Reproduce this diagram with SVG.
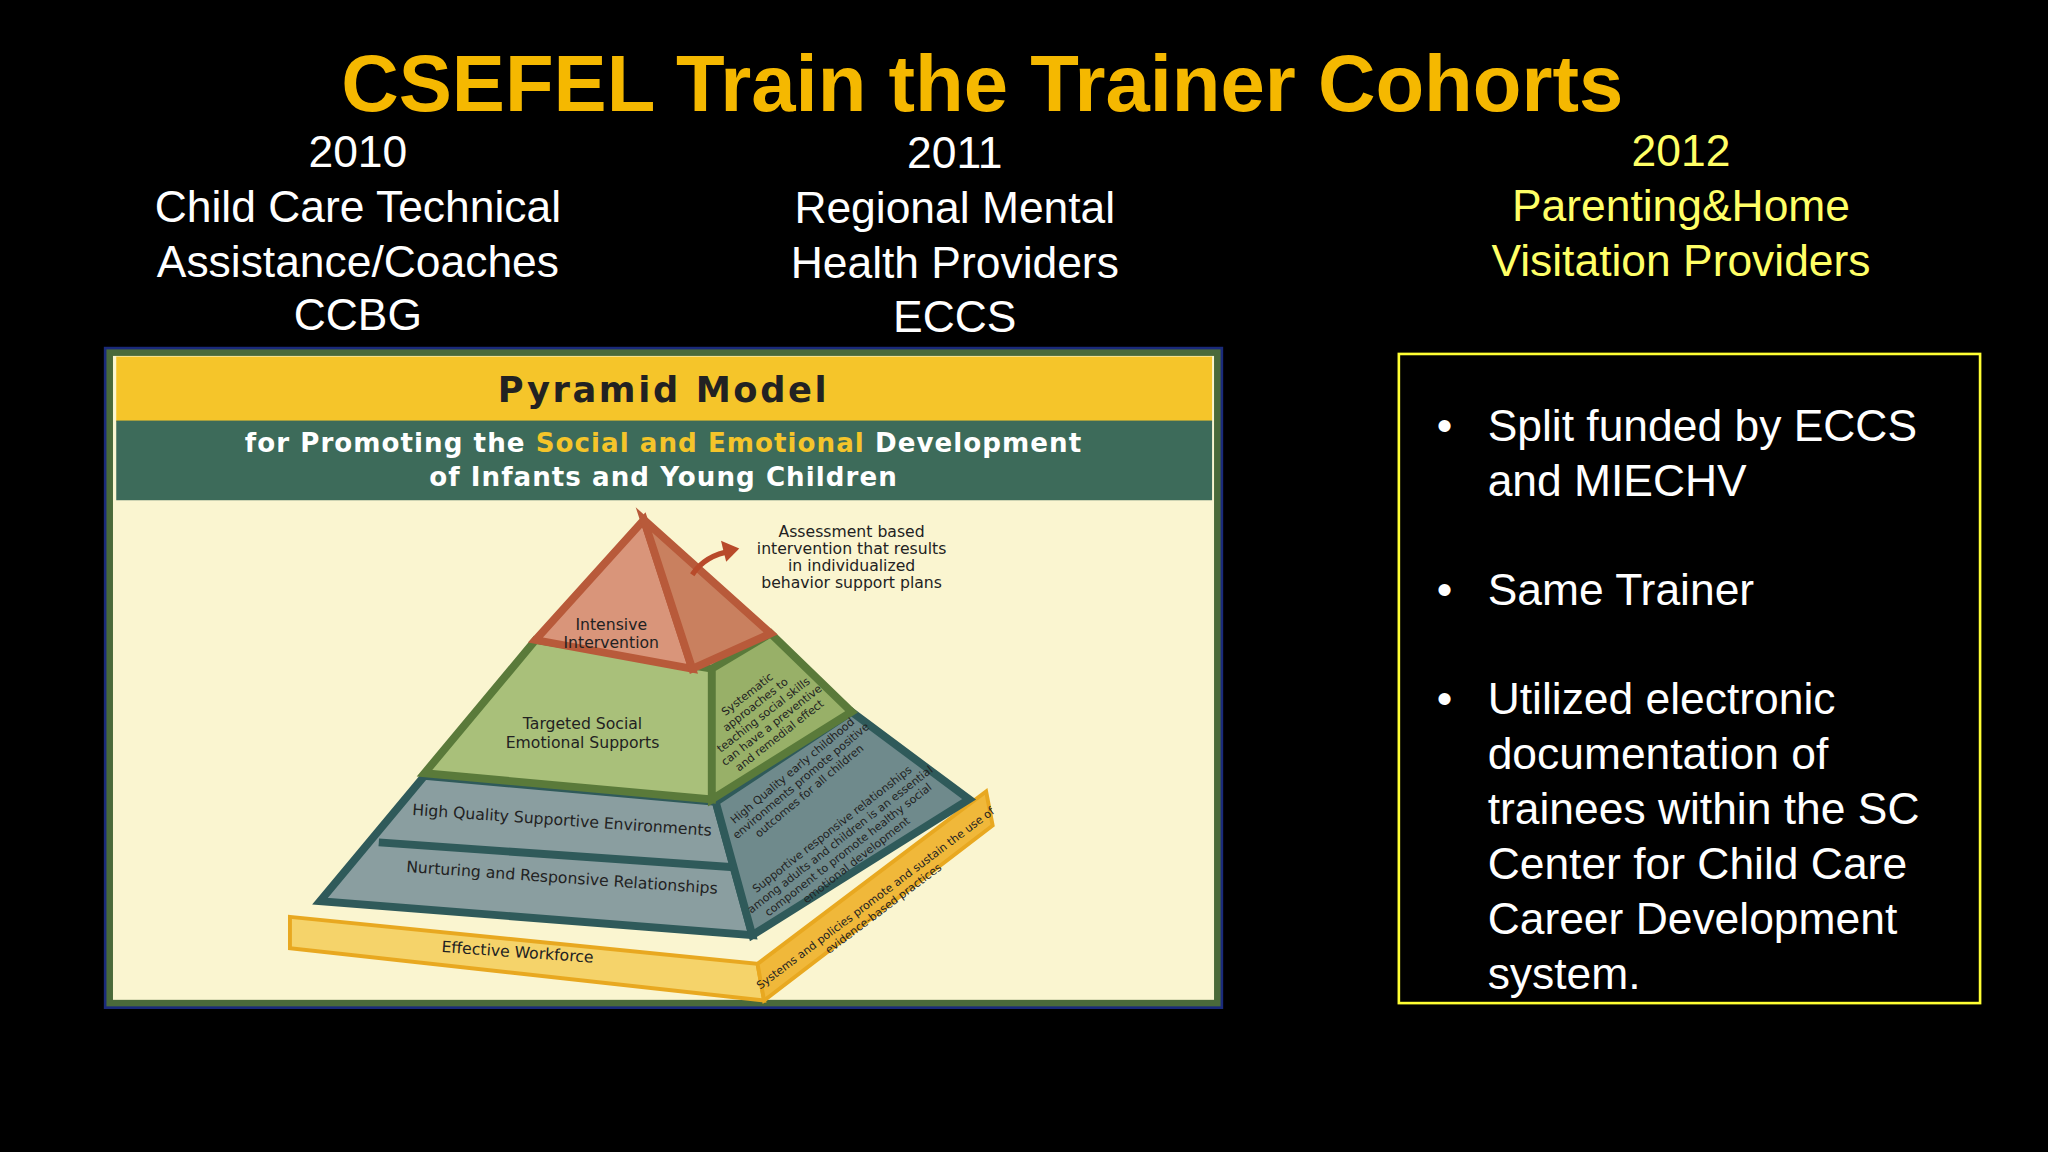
<svg xmlns="http://www.w3.org/2000/svg" width="2048" height="1152" viewBox="0 0 2048 1152">
<style>
.h{font-family:"Liberation Sans",Arial,sans-serif;font-size:34px;text-anchor:middle;fill:#fff}
.y{fill:#ffff66}
.b{font-family:"Liberation Sans",Arial,sans-serif;font-size:34px;fill:#fff}
.p{font-family:"Comic Sans MS","DejaVu Sans",sans-serif;fill:#222}
.pt{font-family:"DejaVu Sans",sans-serif;font-weight:bold;text-anchor:middle}
</style>
<rect width="2048" height="1152" fill="#000"/>
<g transform="scale(1.30612)">
<text x="752" y="85" font-family="Liberation Sans,Arial,sans-serif" font-weight="bold" font-size="61" fill="#f5b800" text-anchor="middle">CSEFEL Train the Trainer Cohorts</text>
<g id="col2010"><text class="h" x="274" y="128">2010</text><text class="h" x="274" y="170">Child Care Technical</text><text class="h" x="274" y="212">Assistance/Coaches</text><text class="h" x="274" y="253">CCBG</text></g>
<g id="col2011"><text class="h" x="731" y="129">2011</text><text class="h" x="731" y="171">Regional Mental</text><text class="h" x="731" y="213">Health Providers</text><text class="h" x="731" y="254">ECCS</text></g>
<g id="col2012"><text class="h y" x="1287" y="127">2012</text><text class="h y" x="1287" y="169">Parenting&amp;Home</text><text class="h y" x="1287" y="211">Visitation Providers</text></g>
<g id="pyramid-image">
<rect x="81" y="267" width="854" height="504" fill="#faf5d0" stroke="#1a2a7a" stroke-width="3"/>
<rect x="84" y="270" width="848" height="498" fill="none" stroke="#4a6a3a" stroke-width="5"/>
<rect x="89" y="273" width="839" height="50" fill="#f5c52a"/>
<rect x="89" y="322" width="839" height="61" fill="#3d6b5a"/>
<text class="pt" x="508" y="308" font-size="27" letter-spacing="2" fill="#222">Pyramid Model</text>
<text class="pt" x="508" y="346" font-size="20" letter-spacing="0.8" fill="#fff">for Promoting the <tspan fill="#f5c52a">Social and Emotional</tspan> Development</text>
<text class="pt" x="508" y="372" font-size="20" letter-spacing="0.8" fill="#fff">of Infants and Young Children</text>
<polygon points="222,702 580,738 585,766 222,726" fill="#f5d36a" stroke="#e8a820" stroke-width="3"/>
<polygon points="580,738 755,606 760,632 585,766" fill="#f0b83a" stroke="#e8a820" stroke-width="3"/>
<polygon points="325,594 548,614 576,716 245,690" fill="#8a9ea0" stroke="#2f5a5a" stroke-width="6"/>
<line x1="290" y1="645" x2="562" y2="664" stroke="#2f5a5a" stroke-width="6"/>
<polygon points="548,614 652,545 742,612 576,716" fill="#6f8a8c" stroke="#2f5a5a" stroke-width="6"/>
<polygon points="410,490 545,512 545,612 325,592" fill="#a9c07a" stroke="#5a7a3a" stroke-width="6"/>
<polygon points="545,512 590,485 652,545 545,612" fill="#98b068" stroke="#5a7a3a" stroke-width="6"/>
<polygon points="493,398 410,490 530,512" fill="#d9957a" stroke="#b85a3a" stroke-width="6"/>
<polygon points="493,398 530,512 590,485" fill="#c9805f" stroke="#b85a3a" stroke-width="6"/>
<path d="M530,440 Q540,425 560,422" fill="none" stroke="#b84a2a" stroke-width="4"/>
<polygon points="566,420 552,414 556,430" fill="#b84a2a"/>
<g class="p" font-size="12" text-anchor="middle">
<text x="652" y="411">Assessment based</text><text x="652" y="424">intervention that results</text><text x="652" y="437">in individualized</text><text x="652" y="450">behavior support plans</text>
<text x="468" y="482">Intensive</text><text x="468" y="496">Intervention</text>
<text x="446" y="558">Targeted Social</text><text x="446" y="573">Emotional Supports</text>
<text x="430" y="632" transform="rotate(4 430 632)">High Quality Supportive Environments</text>
<text x="430" y="676" transform="rotate(4 430 676)">Nurturing and Responsive Relationships</text>
<text x="396" y="733" transform="rotate(4 396 733)">Effective Workforce</text>
</g>
<g class="p" font-size="8.5" text-anchor="middle">
<text transform="translate(585,548) rotate(-38)"><tspan x="0" y="-18">Systematic</tspan><tspan x="0" y="-8">approaches to</tspan><tspan x="0" y="2">teaching social skills</tspan><tspan x="0" y="12">can have a preventive</tspan><tspan x="0" y="22">and remedial effect</tspan></text>
<text transform="translate(615,600) rotate(-40)"><tspan x="0" y="-10">High Quality early childhood</tspan><tspan x="0" y="0">environments promote positive</tspan><tspan x="0" y="10">outcomes for all children</tspan></text>
<text transform="translate(645,645) rotate(-38)"><tspan x="0" y="-10">Supportive responsive relationships</tspan><tspan x="0" y="0">among adults and children is an essential</tspan><tspan x="0" y="10">component to promote healthy social</tspan><tspan x="0" y="20">emotional development</tspan></text>
<text transform="translate(672,690) rotate(-37)"><tspan x="0" y="0">Systems and policies promote and sustain the use of</tspan><tspan x="0" y="10">evidence-based practices</tspan></text>
</g>
</g>
<g id="notes">
<rect x="1071" y="271" width="445" height="497" fill="none" stroke="#ffff33" stroke-width="2"/>
<g class="b">
<text x="1100" y="338">•</text><text x="1139" y="338">Split funded by ECCS</text><text x="1139" y="380">and MIECHV</text>
<text x="1100" y="463">•</text><text x="1139" y="463">Same Trainer</text>
<text x="1100" y="547">•</text><text x="1139" y="547">Utilized electronic</text><text x="1139" y="589">documentation of</text><text x="1139" y="631">trainees within the SC</text><text x="1139" y="673">Center for Child Care</text><text x="1139" y="715">Career Development</text><text x="1139" y="757">system.</text>
</g>
</g>
</g>
</svg>
